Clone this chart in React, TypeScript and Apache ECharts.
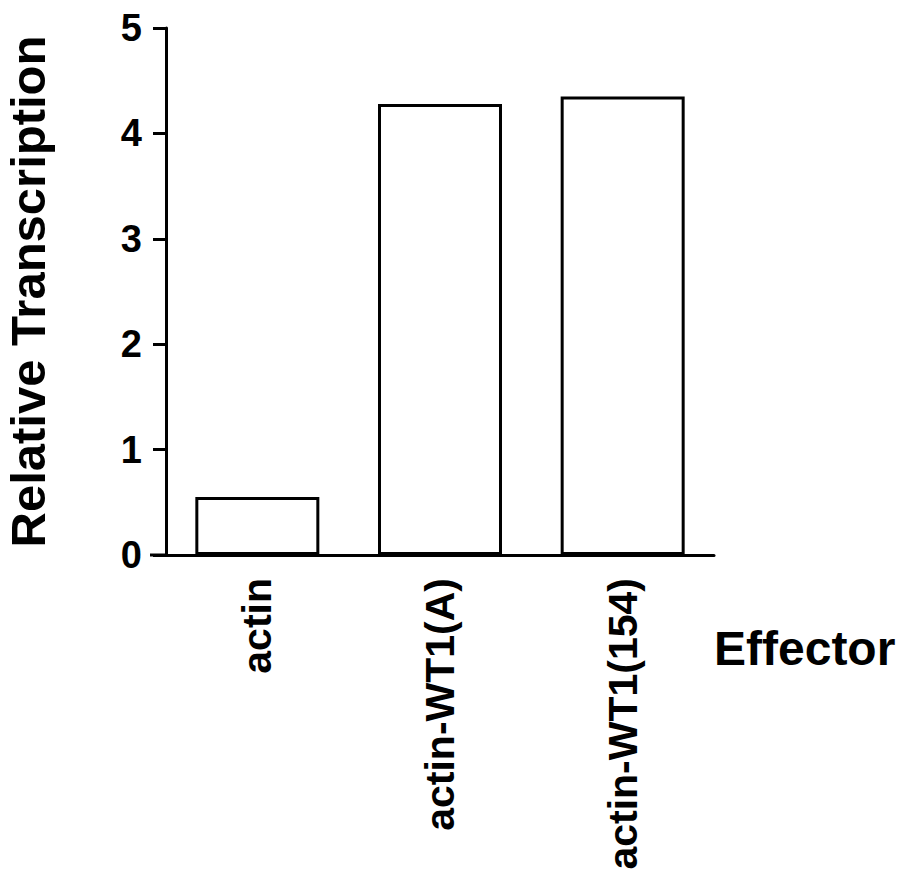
import React, { useEffect, useRef } from "react";
import * as echarts from "echarts";

const categories = ["actin", "actin-WT1(A)", "actin-WT1(154)"];
const values = [0.55, 4.28, 4.35];
const yTicks = { min: 0, max: 5, interval: 1 };
const yAxisTitle = "Relative Transcription";
const xAxisTitle = "Effector";

const FONT = "'Liberation Sans', Arial, Helvetica, sans-serif";

export default function App() {
  const ref = useRef<HTMLDivElement>(null);
  useEffect(() => {
    if (!ref.current) return;
    const chart = echarts.init(ref.current, undefined, { renderer: "svg" });
    const gridLeft = 166;
    const gridTop = 28;
    const gridRight = 907 - 714;
    const gridBottom = 874 - 555;
    chart.setOption({
      animation: false,
      backgroundColor: "#ffffff",
      grid: {
        left: gridLeft,
        right: gridRight,
        top: gridTop,
        bottom: gridBottom,
        containLabel: false,
        outerBoundsMode: "none",
      },
      xAxis: {
        type: "category",
        data: categories,
        axisLine: { lineStyle: { color: "#000", width: 3 } },
        axisTick: { alignWithLabel: true, length: 13, lineStyle: { color: "#000", width: 3 } },
        axisLabel: {
          rotate: 90,
          margin: 23,
          color: "#000",
          fontFamily: FONT,
          fontWeight: "bold",
          fontSize: 41,
        },
        splitLine: { show: false },
      },
      yAxis: {
        type: "value",
        min: yTicks.min,
        max: yTicks.max,
        interval: yTicks.interval,
        name: yAxisTitle,
        nameLocation: "middle",
        nameGap: 114,
        nameTextStyle: { color: "#000", fontFamily: FONT, fontWeight: "bold", fontSize: 49, padding: [0, 0, 0, 0] },
        axisLine: { show: true, lineStyle: { color: "#000", width: 3 } },
        axisTick: { show: true, length: 13, lineStyle: { color: "#000", width: 3 } },
        axisLabel: {
          margin: 24,
          color: "#000",
          fontFamily: FONT,
          fontWeight: "bold",
          fontSize: 38,
        },
        splitLine: { show: false },
      },
      series: [
        {
          type: "bar",
          data: values,
          barWidth: 124,
          itemStyle: { color: "#ffffff", borderColor: "#000", borderWidth: 3 },
        },
      ],
      graphic: [
        {
          type: "line",
          shape: { x1: 150, y1: 555, x2: gridLeft, y2: 555 },
          style: { stroke: "#000", lineWidth: 3 },
        },
        {
          type: "text",
          left: 714,
          top: 624,
          style: {
            text: xAxisTitle,
            fill: "#000",
            font: `bold 48px ${FONT}`,
          },
        },
      ],
    });
    return () => chart.dispose();
  }, []);
  return (
    <div
      ref={ref}
      style={{ position: "absolute", left: 0, top: 0, width: 907, height: 874 }}
    />
  );
}
